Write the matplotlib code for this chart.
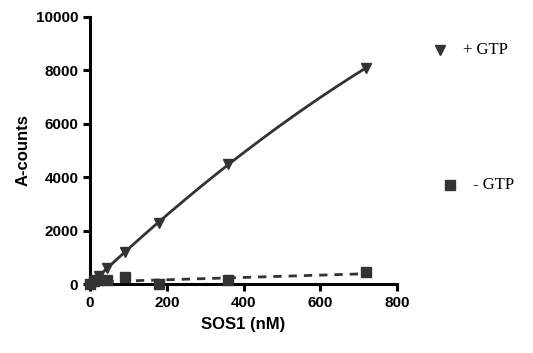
import numpy as np
import matplotlib
matplotlib.use("Agg")
import matplotlib.pyplot as plt

sos1 = [0, 11, 22, 45, 90, 180, 360, 720]
plus_gtp = [0, 150, 300, 600, 1200, 2300, 4500, 8100]
minus_gtp = [0, 100, 150, 150, 250, 0, 150, 450]
xticks = [0, 200, 400, 600, 800]
yticks = [0, 2000, 4000, 6000, 8000, 10000]

plt.rcParams['font.family'] = ['Liberation Sans', 'DejaVu Sans']
fig = plt.figure(figsize=(5.33, 3.53), dpi=100)
ax = fig.add_axes([0.169, 0.195, 0.576, 0.757])

c = '#333333'
xs = np.linspace(0, 720, 200)
p2 = np.polyfit(sos1, plus_gtp, 2)
ax.plot(xs, np.polyval(p2, xs), color=c, lw=2, zorder=2)
p1 = np.polyfit(sos1, minus_gtp, 1)
ax.plot(xs, np.polyval(p1, xs), color=c, lw=2, ls=(0, (3, 2.5)), zorder=2)
ax.plot(sos1, plus_gtp, ls='none', marker='v', ms=7, color=c, zorder=3)
ax.plot(sos1, minus_gtp, ls='none', marker='s', ms=7, color=c, zorder=3, clip_on=False)

ax.set_xlim(0, 800)
ax.set_ylim(0, 10000)
ax.set_xticks(xticks)
ax.set_yticks(yticks)
for s in ['top', 'right']:
    ax.spines[s].set_visible(False)
for s in ['left', 'bottom']:
    ax.spines[s].set_linewidth(2.2)
ax.tick_params(direction='out', width=2.2, length=5, labelsize=11)
for lab in ax.get_xticklabels() + ax.get_yticklabels():
    lab.set_fontweight('bold')
ax.set_xlabel('SOS1 (nM)', fontsize=12, fontweight='bold', labelpad=5)
ax.set_ylabel('A-counts', fontsize=12, fontweight='bold', labelpad=4)

fig.lines.append(plt.Line2D([440/533], [1-50/353], marker='v', ms=7, color=c, transform=fig.transFigure))
fig.lines.append(plt.Line2D([450/533], [1-185/353], marker='s', ms=7, color=c, transform=fig.transFigure))
fig.text(463/533, 1-50/353, '+ GTP', fontsize=12, family=['Liberation Serif'], va='center')
fig.text(473/533, 1-185/353, '- GTP', fontsize=12, family=['Liberation Serif'], va='center')

fig.savefig('out.png', dpi=100)
